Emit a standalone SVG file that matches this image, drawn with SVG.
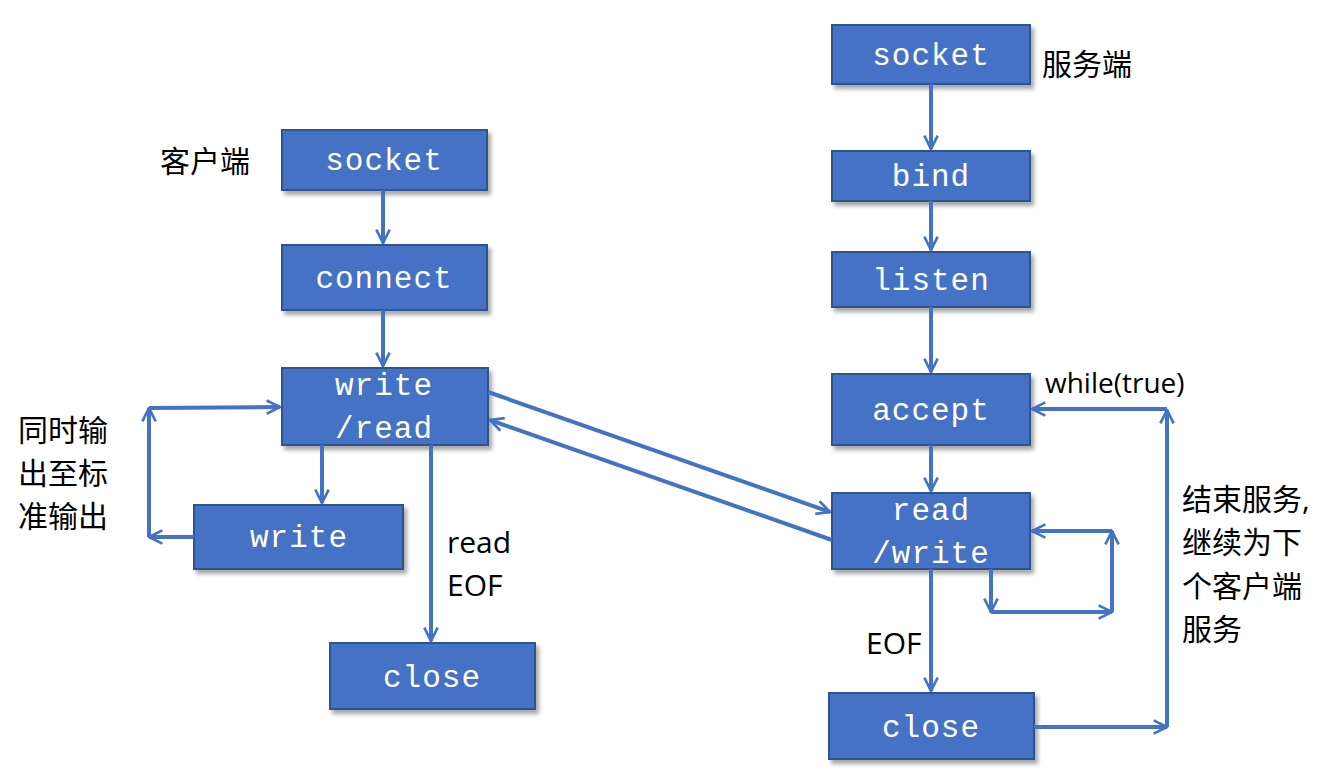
<svg xmlns="http://www.w3.org/2000/svg" width="1344" height="770" viewBox="0 0 1344 770">
<style>
.b rect{fill:#4472C4;stroke:#2F528F;stroke-width:2;filter:url(#sh)}
.b text{fill:#fff;font-family:"Liberation Mono",monospace;font-size:31px;text-anchor:middle;letter-spacing:1px}
.l{font-family:"Open Sans","Noto Sans CJK SC",sans-serif;font-size:30px;fill:#000}
.c line,.c polyline{stroke:#4472C4;stroke-width:4;fill:none;marker-end:url(#a)}
</style>
<defs>
<filter id="sh" x="-10%" y="-10%" width="130%" height="140%"><feDropShadow dx="3" dy="4" stdDeviation="2" flood-opacity="0.35"/></filter>
<marker id="a" viewBox="0 0 12 12" refX="11" refY="6" markerWidth="4" markerHeight="4" orient="auto" markerUnits="strokeWidth"><polyline points="1,1 11,6 1,11" fill="none" stroke="#4472C4" stroke-width="2"/></marker>
</defs>
<rect width="1344" height="770" fill="#fff"/>
<g id="c_socket" class="b"><rect x="282" y="130" width="205" height="60"/><text x="384" y="170">socket</text></g>
<g id="c_connect" class="b"><rect x="282" y="245" width="205" height="65"/><text x="384" y="288">connect</text></g>
<g id="c_wr" class="b"><rect x="282" y="368" width="206" height="77"/><text x="384" y="395">write</text><text x="384" y="438">/read</text></g>
<g id="c_write" class="b"><rect x="194" y="505" width="209" height="64"/><text x="299" y="547">write</text></g>
<g id="c_close" class="b"><rect x="330" y="643" width="205" height="66"/><text x="432" y="687">close</text></g>
<g id="s_socket" class="b"><rect x="832" y="25" width="198" height="59"/><text x="931" y="65">socket</text></g>
<g id="s_bind" class="b"><rect x="832" y="151" width="198" height="50"/><text x="931" y="186">bind</text></g>
<g id="s_listen" class="b"><rect x="832" y="252" width="198" height="55"/><text x="931" y="290">listen</text></g>
<g id="s_accept" class="b"><rect x="832" y="374" width="198" height="71"/><text x="931" y="420">accept</text></g>
<g id="s_rw" class="b"><rect x="832" y="493" width="198" height="76"/><text x="931" y="520">read</text><text x="931" y="563">/write</text></g>
<g id="s_close" class="b"><rect x="829" y="693" width="205" height="66"/><text x="931" y="737">close</text></g>
<g id="connectors" class="c">
<line x1="383" y1="190" x2="383" y2="243"/>
<line x1="383" y1="310" x2="383" y2="366"/>
<line x1="322" y1="445" x2="322" y2="503"/>
<line x1="431" y1="445" x2="431" y2="641"/>
<line x1="194" y1="537" x2="149" y2="537"/>
<line x1="149" y1="537" x2="149" y2="408"/>
<line x1="149" y1="408" x2="280" y2="407"/>
<line x1="488" y1="392" x2="830" y2="512"/>
<line x1="832" y1="540" x2="490" y2="420"/>
<line x1="931" y1="84" x2="931" y2="149"/>
<line x1="931" y1="201" x2="931" y2="250"/>
<line x1="931" y1="307" x2="931" y2="372"/>
<line x1="931" y1="445" x2="931" y2="491"/>
<line x1="931" y1="569" x2="931" y2="691"/>
<line x1="991" y1="569" x2="991" y2="612"/>
<line x1="991" y1="612" x2="1112" y2="612"/>
<line x1="1112" y1="612" x2="1112" y2="531"/>
<line x1="1112" y1="531" x2="1032" y2="531"/>
<line x1="1034" y1="727" x2="1167" y2="727"/>
<line x1="1167" y1="727" x2="1167" y2="410"/>
<line x1="1167" y1="409" x2="1032" y2="409"/>
</g>
<g id="labels" class="l">
<text x="1042" y="75">服务端</text>
<text x="160" y="172">客户端</text>
<text x="1045" y="393" font-size="28">while(true)</text>
<text x="1182" y="510">结束服务,</text>
<text x="1182" y="553">继续为下</text>
<text x="1182" y="597">个客户端</text>
<text x="1182" y="640">服务</text>
<text x="18" y="441">同时输</text>
<text x="18" y="484">出至标</text>
<text x="18" y="527">准输出</text>
<text x="447" y="553">read</text>
<text x="447" y="596">EOF</text>
<text x="866" y="654">EOF</text>
</g>
</svg>
